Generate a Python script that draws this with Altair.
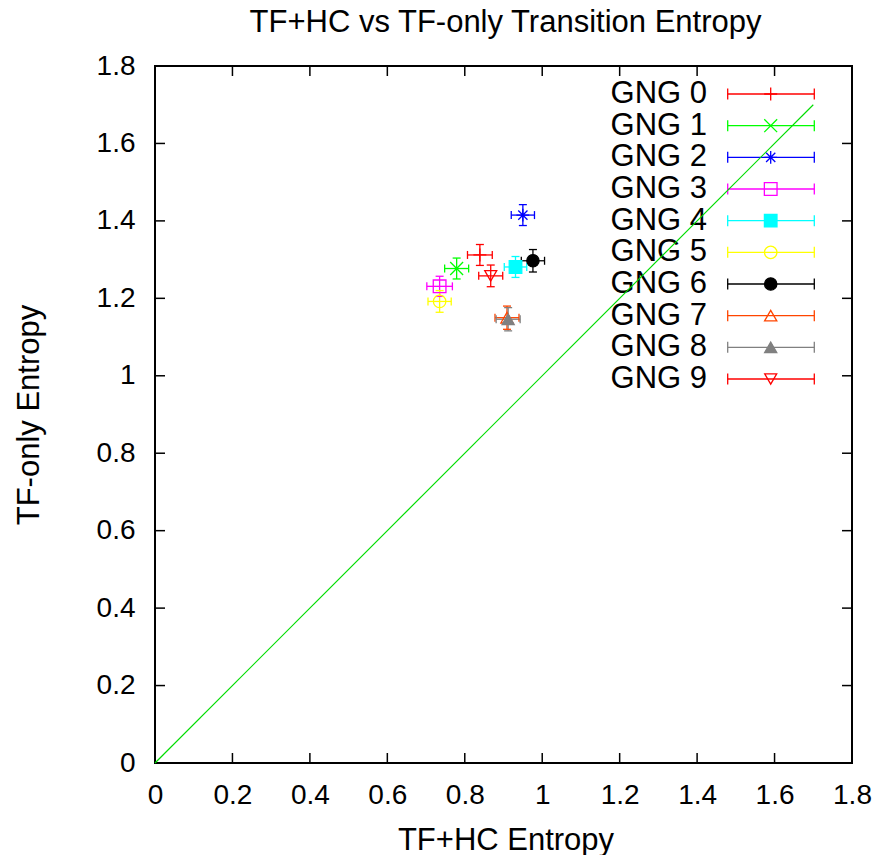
import altair as alt
import pandas as pd

# ---------------- data ----------------
names = [f"GNG {i}" for i in range(10)]
x_vals = [0.839, 0.779, 0.950, 0.735, 0.931, 0.735, 0.976, 0.909, 0.912, 0.867]
y_vals = [1.312, 1.277, 1.415, 1.231, 1.281, 1.192, 1.297, 1.150, 1.146, 1.258]
x_errs = [0.032, 0.031, 0.030, 0.033, 0.029, 0.030, 0.030, 0.031, 0.031, 0.031]
y_errs = [0.027, 0.027, 0.027, 0.026, 0.027, 0.028, 0.029, 0.030, 0.030, 0.028]
diag_x = [0.0, 1.7]
diag_y = [0.0, 1.7]
tick_vals = [0.0, 0.2, 0.4, 0.6, 0.8, 1.0, 1.2, 1.4, 1.6, 1.8]
title_text = "TF+HC vs TF-only Transition Entropy"
x_title = "TF+HC Entropy"
y_title = "TF-only Entropy"

# ---------------- style ----------------
colors = ["#ff0000", "#00ff00", "#0000ff", "#ff00ff", "#00ffff",
          "#ffff00", "#000000", "#ff4500", "#808080", "#ff0000"]
plus = "M-1,0L1,0M0,-1L0,1"
cross = "M-1,-1L1,1M-1,1L1,-1"
star = "M-1,0L1,0M0,-1L0,1M-0.72,-0.72L0.72,0.72M-0.72,0.72L0.72,-0.72"
shapes = [plus, cross, star, "square", "square", "circle", "circle",
          "triangle-up", "triangle-up", "triangle-down"]
sizes = [169, 144, 196, 100, 144, 110, 121, 150, 150, 150]
filled = [False, False, False, False, True, False, True, False, True, False]
DIAG_COLOR = "#00dd00"

FONT = "Liberation Sans"
W = 697
H = 697

df = pd.DataFrame({"series": names, "x": x_vals, "y": y_vals,
                   "xe": x_errs, "ye": y_errs})
df["xlo"] = df["x"] - df["xe"]
df["xhi"] = df["x"] + df["xe"]
df["ylo"] = df["y"] - df["ye"]
df["yhi"] = df["y"] + df["ye"]
df["fillc"] = [c if f else "transparent" for c, f in zip(colors, filled)]

caps_v = pd.concat([
    pd.DataFrame({"series": names, "cx": df["xlo"], "cy": df["y"]}),
    pd.DataFrame({"series": names, "cx": df["xhi"], "cy": df["y"]}),
])
caps_h = pd.concat([
    pd.DataFrame({"series": names, "cx": df["x"], "cy": df["ylo"]}),
    pd.DataFrame({"series": names, "cx": df["x"], "cy": df["yhi"]}),
])

xs = alt.Scale(domain=[0, 1.8], nice=False, zero=False)
ys = alt.Scale(domain=[0, 1.8], nice=False, zero=False)

color_enc = alt.Color("series:N", scale=alt.Scale(domain=names, range=colors), legend=None)
shape_enc = alt.Shape("series:N", scale=alt.Scale(domain=names, range=shapes), legend=None)
size_enc = alt.Size("series:N", scale=alt.Scale(domain=names, range=sizes), legend=None)
fill_enc = alt.Fill("fillc:N", scale=None)

x_axis = alt.Axis(values=tick_vals, format=".1~f", labelFont=FONT, labelFontSize=28,
                  labelColor="black", domain=False, ticks=False, tickSize=0, grid=False,
                  labelPadding=18, orient="bottom", labelFlush=False, labelOverlap=False,
                  title=x_title, titleFont=FONT, titleFontSize=31,
                  titleFontWeight="normal", titleColor="black",
                  titleX=W / 2 + 2, titleY=86, titleBaseline="alphabetic", titleAlign="center")
y_axis = alt.Axis(values=tick_vals, format=".1~f", labelFont=FONT, labelFontSize=28,
                  labelColor="black", domain=False, ticks=False, tickSize=0, grid=False,
                  labelPadding=20, orient="left", labelFlush=False, labelOverlap=False,
                  title=y_title, titleFont=FONT, titleFontSize=31,
                  titleFontWeight="normal", titleColor="black", titleAngle=270,
                  titleX=-117, titleY=H / 2, titleBaseline="alphabetic", titleAlign="center")

# invisible carrier of the axes
tick_df = pd.DataFrame({"v": tick_vals})
axes_layer = alt.Chart(tick_df).mark_point(opacity=0).encode(
    x=alt.X("v:Q", scale=xs, axis=x_axis), y=alt.Y("v:Q", scale=ys, axis=y_axis))

# inward ticks on all four sides
tk = dict(color="black", strokeWidth=1.5)
t_bottom = alt.Chart(tick_df).mark_rule(**tk).encode(
    x=alt.X("v:Q"), y=alt.value(H), y2=alt.value(H - 10))
t_top = alt.Chart(tick_df).mark_rule(**tk).encode(
    x=alt.X("v:Q"), y=alt.value(0), y2=alt.value(10))
t_left = alt.Chart(tick_df).mark_rule(**tk).encode(
    y=alt.Y("v:Q"), x=alt.value(0), x2=alt.value(10))
t_right = alt.Chart(tick_df).mark_rule(**tk).encode(
    y=alt.Y("v:Q"), x=alt.value(W), x2=alt.value(W - 10))

xbar = alt.Chart(df).mark_rule(strokeWidth=1.3).encode(
    x=alt.X("xlo:Q"), x2="xhi:Q", y=alt.Y("y:Q"), color=color_enc)
ybar = alt.Chart(df).mark_rule(strokeWidth=1.3).encode(
    x=alt.X("x:Q"), y=alt.Y("ylo:Q"), y2="yhi:Q", color=color_enc)
capv = alt.Chart(caps_v).mark_rule(strokeWidth=1.3, yOffset=-4, y2Offset=4).encode(
    x=alt.X("cx:Q"), y=alt.Y("cy:Q"), y2="cy:Q", color=color_enc)
caph = alt.Chart(caps_h).mark_rule(strokeWidth=1.3, xOffset=-4, x2Offset=4).encode(
    x=alt.X("cx:Q"), x2="cx:Q", y=alt.Y("cy:Q"), color=color_enc)
pts = alt.Chart(df).mark_point(filled=False, strokeWidth=1.3, opacity=1).encode(
    x=alt.X("x:Q"), y=alt.Y("y:Q"),
    color=color_enc, shape=shape_enc, size=size_enc, fill=fill_enc)

# chart title as text placed above the plot
title_mark = alt.Chart(pd.DataFrame({"t": [title_text]})).mark_text(
    align="center", baseline="alphabetic", font=FONT, fontSize=31, color="black").encode(
    x=alt.value(W / 2 + 2), y=alt.value(-34), text="t:N")

data_layer = alt.layer(axes_layer, xbar, ybar, capv, caph, pts,
                       t_bottom, t_top, t_left, t_right, title_mark)

# ---------------- legend (key inside plot) ----------------
leg_df = pd.DataFrame({"series": names, "rank": list(range(10)),
                       "fillc": df["fillc"]})
ly = alt.Y("rank:Q", scale=alt.Scale(domain=[0, 9], range=[28, 313]), axis=None)
LX0, LX1, LXM, LXT = 572.7, 659.3, 615.7, 552
leg_line = alt.Chart(leg_df).mark_rule(strokeWidth=1.3).encode(
    x=alt.value(LX0), x2=alt.value(LX1), y=ly, color=color_enc)
leg_cap0 = alt.Chart(leg_df).mark_rule(strokeWidth=1.3, yOffset=-5.5, y2Offset=5.5).encode(
    x=alt.value(LX0), y=ly, y2="rank:Q", color=color_enc)
leg_cap1 = alt.Chart(leg_df).mark_rule(strokeWidth=1.3, yOffset=-5.5, y2Offset=5.5).encode(
    x=alt.value(LX1), y=ly, y2="rank:Q", color=color_enc)
leg_pts = alt.Chart(leg_df).mark_point(filled=False, strokeWidth=1.3, opacity=1).encode(
    x=alt.value(LXM), y=ly, color=color_enc, shape=shape_enc, size=size_enc, fill=fill_enc)
leg_text = alt.Chart(leg_df).mark_text(align="right", baseline="middle", font=FONT,
                                       fontSize=31, color="black").encode(
    x=alt.value(LXT), y=ly, text="series:N")
legend_layer = alt.layer(leg_line, leg_cap0, leg_cap1, leg_pts, leg_text)

# diagonal reference line, drawn last so it crosses over the key
diag_df = pd.DataFrame({"x": diag_x, "y": diag_y})
diag = alt.Chart(diag_df).mark_line(
    color=DIAG_COLOR, stroke=DIAG_COLOR, strokeWidth=1.2, opacity=1).encode(
    x=alt.X("x:Q", scale=xs, axis=x_axis), y=alt.Y("y:Q", scale=ys, axis=None))
diag_layer = alt.layer(diag)

chart = alt.layer(data_layer, legend_layer, diag_layer).resolve_scale(
    y="independent"
).properties(
    width=W, height=H,
    autosize=alt.AutoSizeParams(type="none"),
    padding={"left": 147, "top": 58, "right": 20, "bottom": 92},
    background="white",
).configure_view(stroke="black", strokeWidth=2)

chart.save("out.html", embed_options={"renderer": "svg", "actions": False})
